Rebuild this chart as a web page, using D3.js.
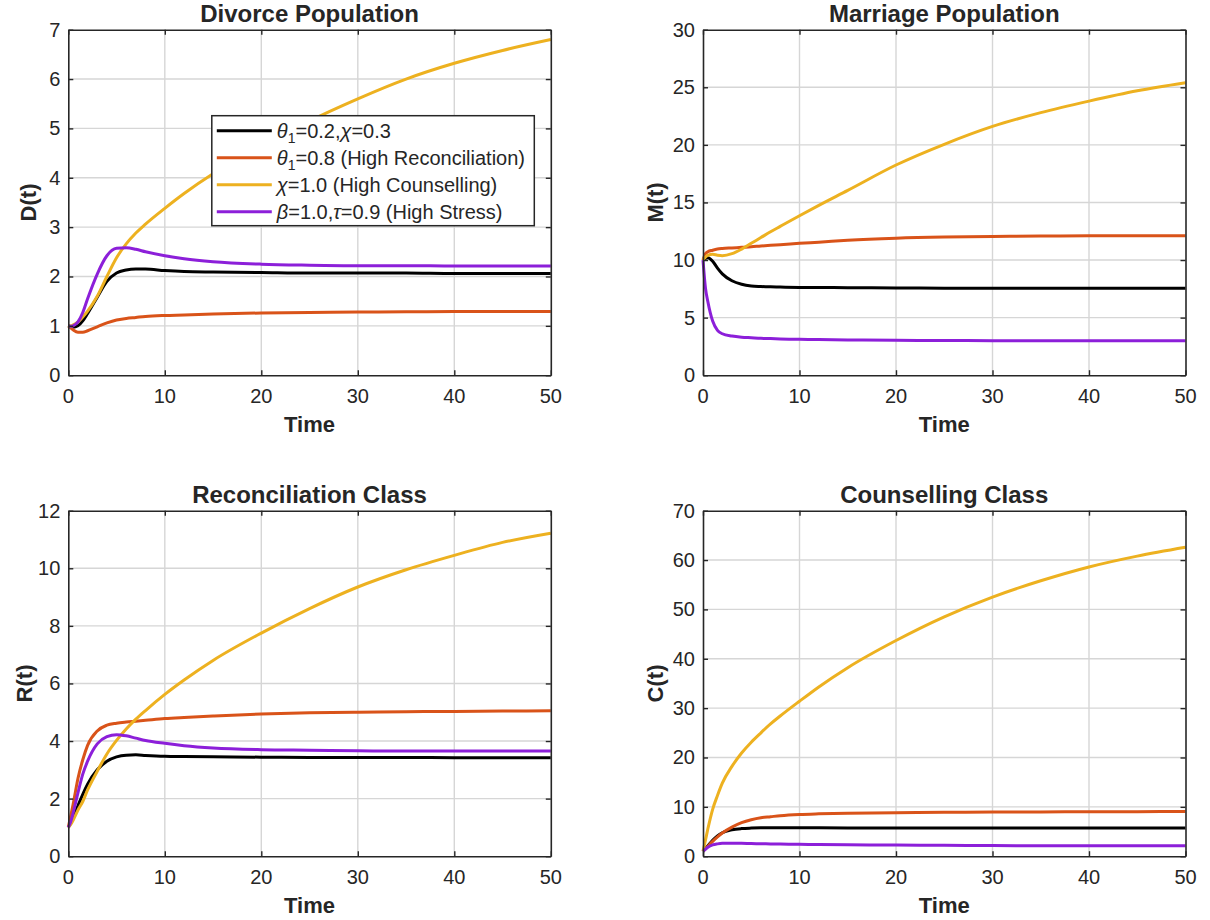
<!DOCTYPE html>
<html>
<head>
<meta charset="utf-8">
<script src="https://cdn.jsdelivr.net/npm/d3@7"></script>
<style>
  html, body { margin: 0; padding: 0; background: #fff; overflow: hidden; }
  svg { display: block; }
  text { font-family: "Liberation Sans", Arial, Helvetica, sans-serif; fill: #262626; }
</style>
</head>
<body>
<svg id="fig" width="1210" height="920"></svg>
<script>
// time samples shared by every curve
const time = [0, 0.25, 0.5, 1, 1.5, 2, 3, 4, 5, 6, 7, 8, 10, 12, 15, 20, 25, 30, 35, 40, 45, 50];

// D(t)
const dBase     = [1.0, 0.98, 0.97, 1.0, 1.1, 1.25, 1.58, 1.9, 2.07, 2.13, 2.15, 2.15, 2.12, 2.1, 2.09, 2.08, 2.07, 2.07, 2.07, 2.06, 2.06, 2.06];
const dReconc   = [1.0, 0.96, 0.92, 0.87, 0.87, 0.9, 0.98, 1.06, 1.12, 1.15, 1.17, 1.19, 1.21, 1.22, 1.24, 1.26, 1.27, 1.28, 1.285, 1.29, 1.29, 1.29];
const dCounsel  = [1.0, 1.0, 1.02, 1.08, 1.18, 1.3, 1.6, 2.0, 2.38, 2.66, 2.88, 3.06, 3.38, 3.68, 4.08, 4.62, 5.15, 5.6, 6.0, 6.32, 6.58, 6.8];
const dStress   = [1.0, 0.99, 1.0, 1.08, 1.27, 1.55, 2.05, 2.42, 2.57, 2.58, 2.55, 2.5, 2.42, 2.36, 2.3, 2.25, 2.23, 2.22, 2.22, 2.21, 2.21, 2.21];

// M(t)
const mBase     = [10.0, 10.15, 10.2, 9.9, 9.3, 8.8, 8.2, 7.9, 7.75, 7.7, 7.67, 7.65, 7.62, 7.61, 7.6, 7.57, 7.56, 7.55, 7.55, 7.54, 7.54, 7.54];
const mReconc   = [10.0, 10.55, 10.72, 10.85, 10.95, 11.0, 11.05, 11.1, 11.15, 11.22, 11.28, 11.33, 11.45, 11.55, 11.72, 11.9, 12.0, 12.05, 12.08, 12.1, 12.1, 12.1];
const mCounsel  = [10.0, 10.25, 10.4, 10.5, 10.42, 10.38, 10.55, 10.95, 11.45, 11.95, 12.45, 12.92, 13.85, 14.75, 16.05, 18.25, 20.05, 21.6, 22.8, 23.8, 24.7, 25.4];
const mStress   = [10.0, 7.6, 6.4, 4.7, 3.9, 3.6, 3.4, 3.3, 3.25, 3.2, 3.18, 3.15, 3.12, 3.09, 3.06, 3.03, 3.01, 3.0, 3.0, 3.0, 3.0, 3.0];

// R(t)
const rBase     = [1.0, 1.15, 1.35, 1.75, 2.15, 2.5, 3.0, 3.3, 3.45, 3.51, 3.52, 3.5, 3.47, 3.46, 3.45, 3.44, 3.43, 3.43, 3.43, 3.42, 3.42, 3.42];
const rReconc   = [1.0, 1.4, 1.8, 2.7, 3.35, 3.85, 4.35, 4.55, 4.62, 4.66, 4.69, 4.72, 4.78, 4.82, 4.87, 4.94, 4.98, 5.0, 5.02, 5.03, 5.04, 5.05];
const rCounsel  = [1.0, 1.1, 1.25, 1.6, 1.9, 2.3, 2.95, 3.55, 4.02, 4.42, 4.76, 5.06, 5.62, 6.12, 6.8, 7.75, 8.6, 9.35, 9.95, 10.45, 10.9, 11.22];
const rStress   = [1.0, 1.2, 1.5, 2.2, 2.85, 3.3, 3.9, 4.15, 4.22, 4.18, 4.1, 4.02, 3.92, 3.84, 3.76, 3.7, 3.68, 3.66, 3.65, 3.65, 3.65, 3.65];

// C(t)
const cBase     = [1.0, 1.6, 2.1, 3.2, 4.1, 4.75, 5.35, 5.6, 5.7, 5.75, 5.76, 5.76, 5.75, 5.74, 5.73, 5.72, 5.71, 5.7, 5.7, 5.7, 5.7, 5.7];
const cReconc   = [1.0, 1.5, 2.0, 3.0, 3.9, 4.7, 5.9, 6.8, 7.4, 7.8, 8.0, 8.2, 8.45, 8.58, 8.7, 8.8, 8.88, 8.95, 8.98, 9.0, 9.03, 9.05];
const cCounsel  = [1.0, 3.2, 5.5, 9.5, 12.3, 14.8, 18.2, 20.9, 23.1, 25.0, 26.8, 28.4, 31.4, 34.3, 38.2, 43.7, 48.5, 52.5, 55.8, 58.6, 60.8, 62.6];
const cStress   = [1.0, 1.4, 1.8, 2.3, 2.5, 2.6, 2.62, 2.6, 2.55, 2.52, 2.48, 2.45, 2.4, 2.35, 2.3, 2.25, 2.2, 2.15, 2.13, 2.11, 2.1, 2.1];

const xTicks = [0, 10, 20, 30, 40, 50];
const colors = ["#000000", "#D95319", "#EDB120", "#8C1FD9"];

// legend entries, as pieces: [text, style] where style is "i" italic, "s" subscript
const legendItems = [
  [["θ", "i"], ["1", "s"], ["=0.2,", ""], ["χ", "i"], ["=0.3", ""]],
  [["θ", "i"], ["1", "s"], ["=0.8 (High Reconciliation)", ""]],
  [["χ", "i"], ["=1.0 (High Counselling)", ""]],
  [["β", "i"], ["=1.0,", ""], ["τ", "i"], ["=0.9 (High Stress)", ""]]
];

const panels = [
  { title: "Divorce Population", ylab: "D(t)", yMax: 7, yStep: 1, series: [dBase, dReconc, dCounsel, dStress], x: 68.3, y: 29.7, labX: -32, legend: true },
  { title: "Marriage Population", ylab: "M(t)", yMax: 30, yStep: 5, series: [mBase, mReconc, mCounsel, mStress], x: 703, y: 29.7, labX: -40 },
  { title: "Reconciliation Class", ylab: "R(t)", yMax: 12, yStep: 2, series: [rBase, rReconc, rCounsel, rStress], x: 68.3, y: 510.7, labX: -36 },
  { title: "Counselling Class", ylab: "C(t)", yMax: 70, yStep: 10, series: [cBase, cReconc, cCounsel, cStress], x: 703, y: 510.7, labX: -40 }
];

const innerWidth = 482.5;
const innerHeight = 345.5;
const svg = d3.select("#fig");

panels.forEach(function (p) {
  const g = svg.append("g").attr("transform", "translate(" + p.x + "," + p.y + ")");
  const x = d3.scaleLinear().domain([0, 50]).range([0, innerWidth]);
  const y = d3.scaleLinear().domain([0, p.yMax]).range([innerHeight, 0]);
  const yTicks = d3.range(0, p.yMax + p.yStep / 2, p.yStep);

  // grid
  g.append("g").selectAll("line")
    .data(xTicks.slice(1, -1))
    .join("line")
    .attr("x1", d => x(d)).attr("x2", d => x(d))
    .attr("y1", 0).attr("y2", innerHeight)
    .attr("stroke", "#d6d6d6").attr("stroke-width", 1.4);
  g.append("g").selectAll("line")
    .data(yTicks.slice(1, -1))
    .join("line")
    .attr("x1", 0).attr("x2", innerWidth)
    .attr("y1", d => y(d)).attr("y2", d => y(d))
    .attr("stroke", "#d6d6d6").attr("stroke-width", 1.4);

  // curves
  const line = d3.line()
    .x((d, i) => x(time[i]))
    .y(d => y(d))
    .curve(d3.curveMonotoneX);
  p.series.forEach(function (vals, si) {
    g.append("path")
      .datum(vals)
      .attr("fill", "none")
      .attr("stroke", colors[si])
      .attr("stroke-width", 3)
      .attr("stroke-linejoin", "round")
      .attr("d", line);
  });

  // axes box with inward ticks; labels are drawn separately
  const axes = [
    g.append("g").attr("transform", "translate(0," + innerHeight + ")")
      .call(d3.axisBottom(x).tickValues(xTicks).tickSizeInner(-5).tickSizeOuter(0).tickFormat("")),
    g.append("g")
      .call(d3.axisTop(x).tickValues(xTicks).tickSizeInner(-5).tickSizeOuter(0).tickFormat("")),
    g.append("g")
      .call(d3.axisLeft(y).tickValues(yTicks).tickSizeInner(-5).tickSizeOuter(0).tickFormat("")),
    g.append("g").attr("transform", "translate(" + innerWidth + ",0)")
      .call(d3.axisRight(y).tickValues(yTicks).tickSizeInner(-5).tickSizeOuter(0).tickFormat(""))
  ];
  axes.forEach(function (a) {
    a.select(".domain").attr("stroke", "#262626").attr("stroke-width", 1.6);
    a.selectAll(".tick line").attr("stroke", "#262626").attr("stroke-width", 1.4);
    a.selectAll(".tick text").remove();
  });

  g.append("g").selectAll("text")
    .data(xTicks)
    .join("text")
    .attr("x", d => x(d))
    .attr("y", innerHeight + 28)
    .attr("text-anchor", "middle")
    .attr("font-size", 20)
    .text(d => d);
  g.append("g").selectAll("text")
    .data(yTicks)
    .join("text")
    .attr("x", -8)
    .attr("y", d => y(d) + 7)
    .attr("text-anchor", "end")
    .attr("font-size", 20)
    .text(d => d);

  // title and labels
  g.append("text")
    .attr("x", innerWidth / 2).attr("y", -8)
    .attr("text-anchor", "middle")
    .attr("font-size", 24).attr("font-weight", "bold")
    .text(p.title);
  g.append("text")
    .attr("x", innerWidth / 2).attr("y", innerHeight + 57)
    .attr("text-anchor", "middle")
    .attr("font-size", 22).attr("font-weight", "bold")
    .text("Time");
  g.append("text")
    .attr("transform", "translate(" + p.labX + "," + innerHeight / 2 + ") rotate(-90)")
    .attr("text-anchor", "middle")
    .attr("font-size", 22).attr("font-weight", "bold")
    .text(p.ylab);

  if (p.legend) {
    const lg = g.append("g").attr("transform", "translate(143.5,86)");
    lg.append("rect")
      .attr("width", 322.5).attr("height", 110)
      .attr("fill", "#fff").attr("stroke", "#262626").attr("stroke-width", 1.5);
    legendItems.forEach(function (parts, i) {
      const row = lg.append("g").attr("transform", "translate(0," + (15 + i * 27) + ")");
      row.append("line")
        .attr("x1", 5).attr("x2", 60).attr("y1", 0).attr("y2", 0)
        .attr("stroke", colors[i]).attr("stroke-width", 3);
      const t = row.append("text").attr("x", 65).attr("y", 7).attr("font-size", 20);
      parts.forEach(function (pt, k) {
        const s = t.append("tspan").text(pt[0]);
        if (pt[1] === "i") s.attr("font-style", "italic");
        if (pt[1] === "s") s.attr("font-size", 14).attr("dy", 5);
        else if (k > 0 && parts[k - 1][1] === "s") s.attr("dy", -5);
      });
    });
  }
});
</script>
</body>
</html>
